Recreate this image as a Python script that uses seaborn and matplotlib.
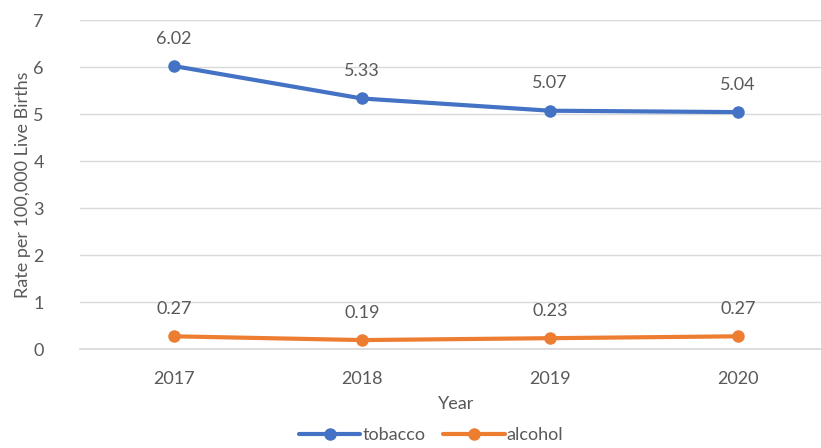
import matplotlib
matplotlib.use("Agg")
import matplotlib.pyplot as plt
import numpy as np
import pandas as pd
import seaborn as sns

years = ["2017", "2018", "2019", "2020"]
tobacco = [6.02, 5.33, 5.07, 5.04]
alcohol = [0.27, 0.19, 0.23, 0.27]

BLUE = "#4472C4"
ORANGE = "#ED7D31"
GRID = "#D9D9D9"
TEXT = "#595959"
FS = 13

sns.set_theme(style="white")
plt.rcParams["font.family"] = ["Lato", "DejaVu Sans"]

df = pd.DataFrame({
    "pos": list(range(len(years))) * 2,
    "rate": tobacco + alcohol,
    "series": ["tobacco"] * len(years) + ["alcohol"] * len(years),
})

fig = plt.figure(figsize=(8.21, 4.48), dpi=100)
ax = fig.add_axes([80 / 821, 99 / 448, 752 / 821, 329 / 448])

sns.lineplot(data=df, x="pos", y="rate", hue="series",
             palette={"tobacco": BLUE, "alcohol": ORANGE},
             marker="o", markersize=9, markeredgewidth=0, linewidth=3,
             ax=ax, legend=False)

for vals in (tobacco, alcohol):
    for i, v in enumerate(vals):
        ax.annotate(f"{v:.2f}", (i, v), xytext=(0, 14), textcoords="offset points",
                    ha="center", va="bottom", fontsize=FS, color=TEXT)

ax.set_xlim(-0.5, len(years) - 0.5)
ax.set_ylim(0, 7)
ax.set_xticks(range(len(years)))
ax.set_xticklabels(years)
ax.set_yticks(range(0, 8))
ax.yaxis.grid(True, color=GRID, linewidth=1)
ax.set_axisbelow(True)
for s in ["top", "right", "left"]:
    ax.spines[s].set_visible(False)
ax.spines["bottom"].set_color(GRID)
ax.tick_params(axis="x", length=0, labelsize=FS, labelcolor=TEXT, pad=16)
ax.tick_params(axis="y", length=0, labelsize=FS, labelcolor=TEXT, pad=26)
ax.set_xlabel("Year", fontsize=FS, color=TEXT, labelpad=6)
ax.set_ylabel("Rate per 100,000 Live Births", fontsize=FS, color=TEXT, labelpad=2)

handles = [plt.Line2D([], [], color=BLUE, lw=3, marker="o", ms=9, mew=0),
           plt.Line2D([], [], color=ORANGE, lw=3, marker="o", ms=9, mew=0)]
leg = fig.legend(handles, ["tobacco", "alcohol"], loc="lower center", ncol=2,
                 bbox_to_anchor=(0.525, -0.025), frameon=False, fontsize=FS,
                 handlelength=3.4, handletextpad=0.1, columnspacing=1.0)
for t in leg.get_texts():
    t.set_color(TEXT)

fig.savefig("out.png", dpi=100)
